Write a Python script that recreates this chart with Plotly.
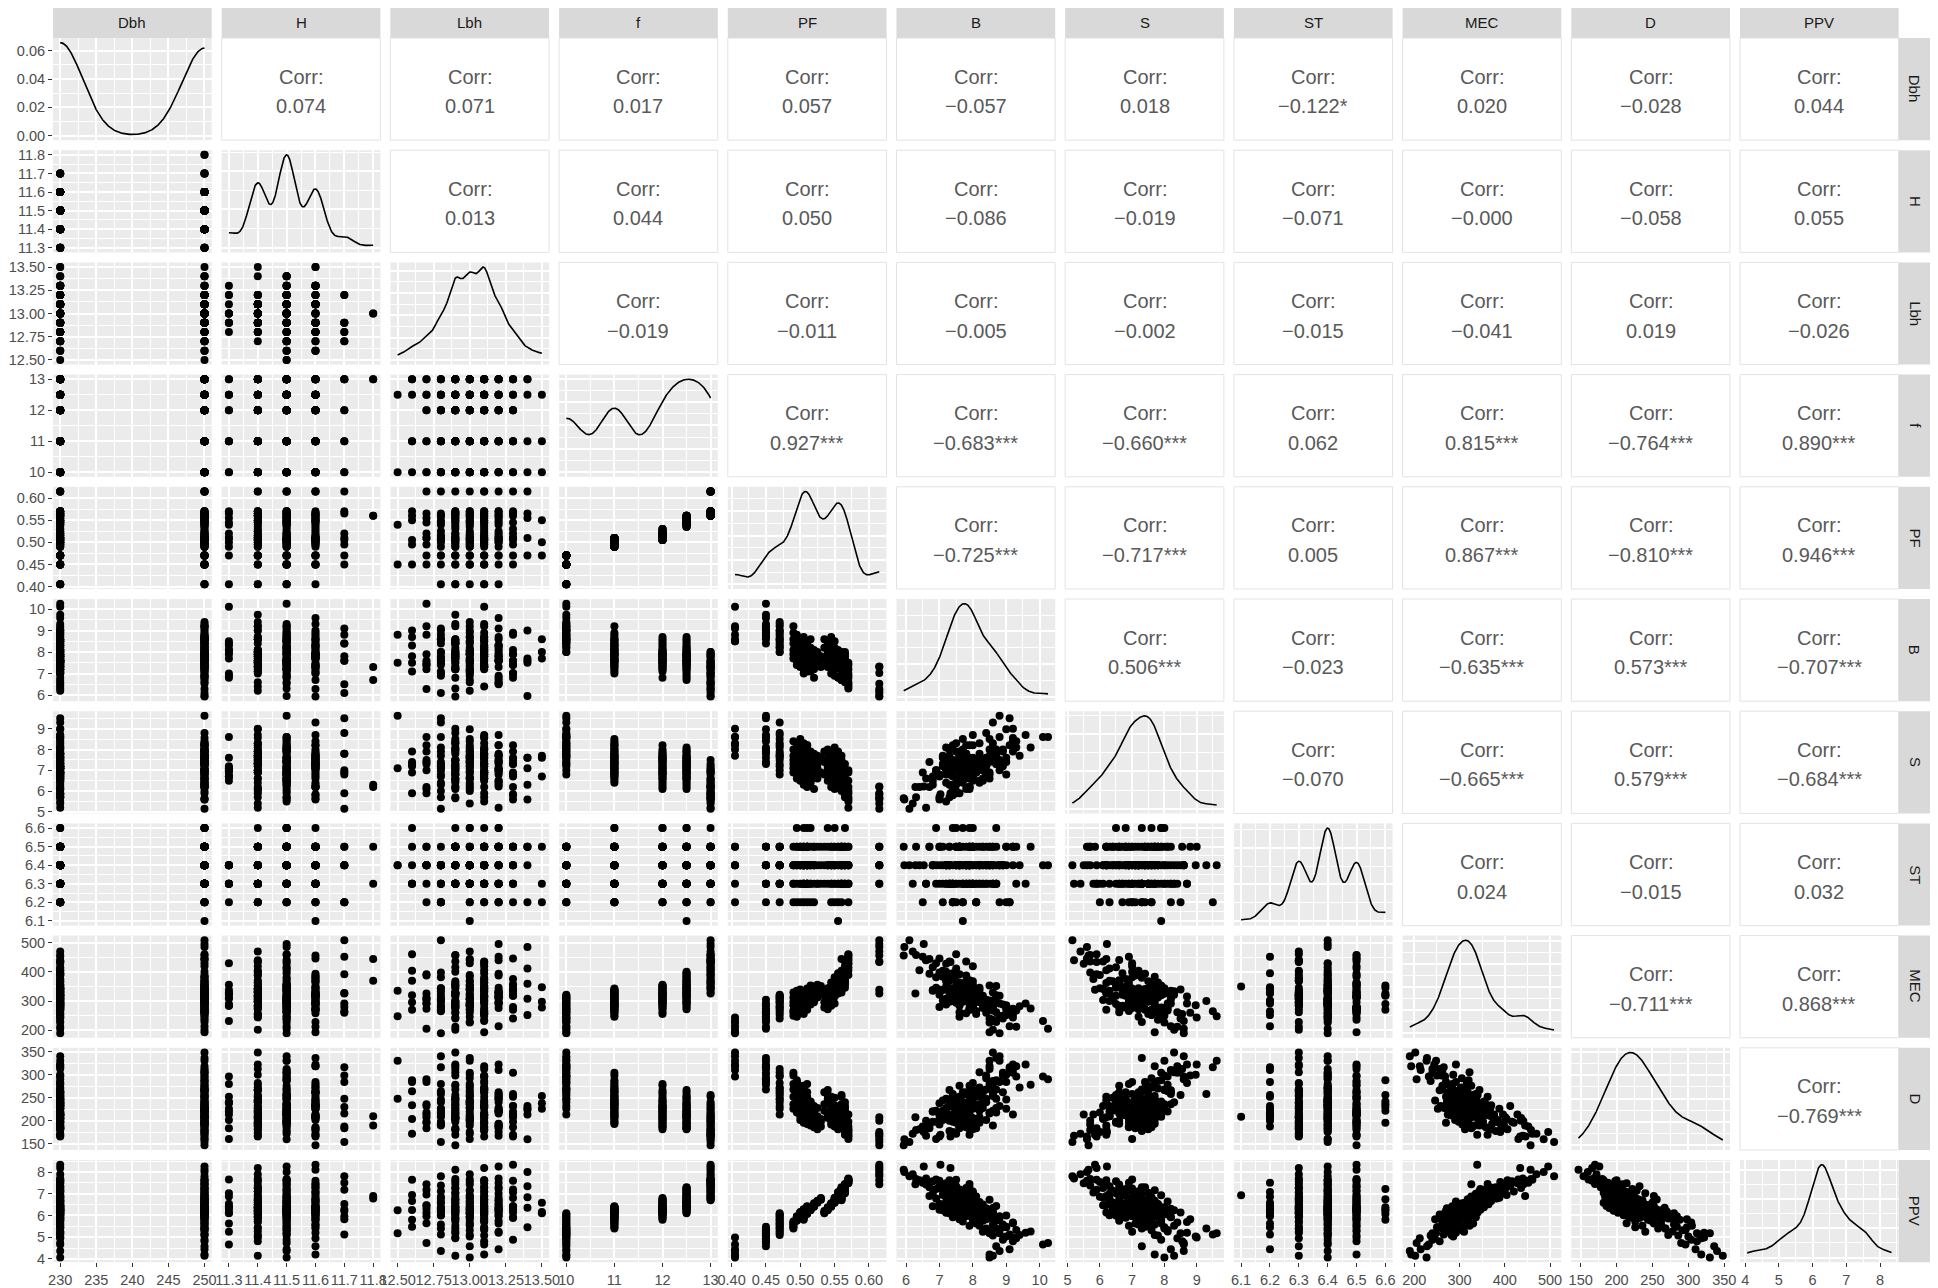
import numpy as np
import plotly.graph_objects as go

# ---------------------------------------------------------------- data
# rows grouped by f (10, 11, 12, 12.5, 13); 200 observations

Dbh = [
    230, 250, 250, 230, 250, 230, 230, 250, 230, 250,
    250, 230, 230, 250, 230, 250, 230, 230, 250, 250,
    230, 250, 230, 230, 250, 230, 250, 250, 230, 250,
    230, 230, 250, 230, 250, 230, 230, 250,
    250, 230, 230, 250, 230, 250, 250, 230, 250, 230,
    230, 250, 230, 250, 250, 230, 230, 250, 230, 250,
    250, 230, 250, 230, 230, 250, 230, 250, 250, 230,
    230, 250, 230, 250, 230, 230, 250, 250, 230, 250,
    230, 250, 230, 250, 230,
    230, 250, 230, 250, 250, 230, 250, 230, 230, 250,
    250, 230, 230, 250, 230, 250, 230, 250, 230, 230,
    250, 250, 230, 250, 230, 230, 250, 230, 250, 250,
    230, 230, 250, 230, 250, 230,
    250, 230, 250, 230, 230, 250, 230, 250, 250, 230,
    230, 250, 250, 230, 250, 230, 230, 250, 230, 250,
    250, 230, 230, 250, 230, 250, 250, 230, 250, 230,
    230, 250, 230, 250, 250, 230, 230, 250, 230, 250,
    250, 230,
    230, 250, 250, 230, 230, 250, 230, 250, 250, 230,
    250, 230, 230, 250, 230, 250, 230, 230, 250, 250,
    230, 230, 250, 230, 250, 230, 250, 250, 230, 230,
    250, 230, 250, 230, 250, 250, 230, 250, 230,
]

H = [
    11.5, 11.4, 11.6, 11.5, 11.5, 11.3, 11.4, 11.6, 11.5, 11.4,
    11.5, 11.6, 11.4, 11.5, 11.7, 11.5, 11.6, 11.4, 11.5, 11.5,
    11.6, 11.4, 11.5, 11.3, 11.5, 11.6, 11.4, 11.5, 11.6, 11.5,
    11.4, 11.5, 11.7, 11.6, 11.4, 11.5, 11.6, 11.4,
    11.4, 11.5, 11.5, 11.6, 11.3, 11.5, 11.4, 11.6, 11.5, 11.4,
    11.6, 11.5, 11.5, 11.4, 11.7, 11.6, 11.5, 11.4, 11.5, 11.6,
    11.5, 11.4, 11.3, 11.5, 11.6, 11.5, 11.4, 11.6, 11.5, 11.5,
    11.4, 11.6, 11.5, 11.7, 11.5, 11.4, 11.6, 11.5, 11.3, 11.4,
    11.5, 11.6, 11.4, 11.4, 11.6,
    11.6, 11.5, 11.4, 11.5, 11.6, 11.4, 11.5, 11.3, 11.5, 11.6,
    11.4, 11.5, 11.7, 11.6, 11.4, 11.5, 11.5, 11.6, 11.4, 11.5,
    11.6, 11.4, 11.5, 11.3, 11.6, 11.5, 11.4, 11.7, 11.5, 11.4,
    11.6, 11.5, 11.4, 11.6, 11.4, 11.5,
    11.5, 11.6, 11.4, 11.5, 11.5, 11.3, 11.6, 11.4, 11.5, 11.6,
    11.5, 11.4, 11.5, 11.6, 11.5, 11.4, 11.3, 11.5, 11.6, 11.4,
    11.5, 11.5, 11.6, 11.4, 11.5, 11.6, 11.5, 11.4, 11.5, 11.3,
    11.5, 11.6, 11.4, 11.5, 11.6, 11.5, 11.4, 11.6, 11.5, 11.4,
    11.4, 11.6,
    11.5, 11.4, 11.8, 11.6, 11.5, 11.4, 11.5, 11.8, 11.3, 11.6,
    11.4, 11.5, 11.7, 11.5, 11.4, 11.6, 11.5, 11.4, 11.5, 11.6,
    11.5, 11.7, 11.4, 11.5, 11.6, 11.4, 11.5, 11.3, 11.5, 11.4,
    11.6, 11.5, 11.7, 11.4, 11.5, 11.6, 11.4, 11.5, 11.6,
]

Lbh = [
    13.0, 12.9, 13.1, 12.8, 13.2, 13.1, 12.9, 13.0, 12.7, 13.1,
    13.3, 12.9, 13.0, 13.1, 12.8, 12.5, 13.2, 12.9, 13.0, 13.1,
    12.6, 13.0, 12.9, 13.2, 13.1, 12.8, 13.4, 12.9, 13.0, 12.7,
    13.1, 13.2, 12.9, 13.3, 13.0, 12.8, 13.1, 13.5,
    12.9, 13.1, 13.0, 12.8, 13.2, 13.0, 12.9, 13.1, 12.6, 13.0,
    13.1, 12.9, 13.3, 13.0, 12.7, 13.1, 13.2, 12.9, 12.8, 13.0,
    13.1, 13.2, 12.9, 13.0, 13.5, 13.1, 12.8, 12.9, 13.2, 13.0,
    13.1, 12.6, 13.3, 12.9, 13.0, 13.1, 12.7, 13.2, 12.8, 13.0,
    13.4, 12.9, 13.1, 13.2, 13.3,
    13.1, 12.9, 13.0, 13.2, 12.8, 13.1, 12.9, 13.0, 12.7, 13.3,
    13.1, 13.0, 12.9, 13.2, 12.8, 13.1, 13.0, 12.9, 13.1, 13.2,
    12.8, 13.0, 12.9, 13.3, 13.1, 12.7, 13.0, 13.2, 12.9, 13.1,
    12.8, 13.0, 13.2, 12.9, 13.1, 13.3,
    13.0, 13.1, 12.9, 12.5, 13.2, 13.0, 12.8, 13.1, 12.9, 13.3,
    13.0, 13.1, 12.7, 12.9, 13.2, 13.1, 13.0, 12.8, 13.5, 12.9,
    13.1, 13.0, 12.6, 13.2, 12.9, 13.1, 12.8, 13.0, 13.4, 12.9,
    13.1, 13.0, 12.7, 13.2, 12.9, 13.1, 12.8, 13.0, 13.3, 12.9,
    13.1, 13.2,
    13.1, 12.9, 13.0, 13.2, 12.8, 13.1, 12.6, 13.0, 12.9, 13.3,
    13.1, 13.0, 12.7, 13.2, 12.9, 13.1, 13.4, 12.8, 13.0, 12.9,
    13.1, 13.2, 13.0, 12.9, 13.3, 13.1, 12.6, 13.0, 12.9, 13.2,
    12.7, 13.1, 12.8, 13.0, 13.4, 12.9, 13.1, 13.2, 13.3,
]

f = [
    10, 10, 10, 10, 10, 10, 10, 10, 10, 10,
    10, 10, 10, 10, 10, 10, 10, 10, 10, 10,
    10, 10, 10, 10, 10, 10, 10, 10, 10, 10,
    10, 10, 10, 10, 10, 10, 10, 10,
    11, 11, 11, 11, 11, 11, 11, 11, 11, 11,
    11, 11, 11, 11, 11, 11, 11, 11, 11, 11,
    11, 11, 11, 11, 11, 11, 11, 11, 11, 11,
    11, 11, 11, 11, 11, 11, 11, 11, 11, 11,
    11, 11, 11, 11, 11,
    12, 12, 12, 12, 12, 12, 12, 12, 12, 12,
    12, 12, 12, 12, 12, 12, 12, 12, 12, 12,
    12, 12, 12, 12, 12, 12, 12, 12, 12, 12,
    12, 12, 12, 12, 12, 12,
    12.5, 12.5, 12.5, 12.5, 12.5, 12.5, 12.5, 12.5, 12.5, 12.5,
    12.5, 12.5, 12.5, 12.5, 12.5, 12.5, 12.5, 12.5, 12.5, 12.5,
    12.5, 12.5, 12.5, 12.5, 12.5, 12.5, 12.5, 12.5, 12.5, 12.5,
    12.5, 12.5, 12.5, 12.5, 12.5, 12.5, 12.5, 12.5, 12.5, 12.5,
    12.5, 12.5,
    13, 13, 13, 13, 13, 13, 13, 13, 13, 13,
    13, 13, 13, 13, 13, 13, 13, 13, 13, 13,
    13, 13, 13, 13, 13, 13, 13, 13, 13, 13,
    13, 13, 13, 13, 13, 13, 13, 13, 13,
]

PF = [
    0.405, 0.405, 0.405, 0.405, 0.405, 0.405, 0.405,
    0.45, 0.45, 0.45, 0.45, 0.45, 0.45, 0.45, 0.45, 0.45, 0.45, 0.45, 0.45, 0.45, 0.45,
    0.47, 0.47, 0.47, 0.47, 0.47, 0.47, 0.47, 0.47, 0.47, 0.47, 0.47, 0.47, 0.47, 0.47,
    0.47, 0.47, 0.47,
    0.49, 0.49, 0.49, 0.49, 0.49, 0.49, 0.49,
    0.495, 0.495, 0.495, 0.495, 0.495, 0.495, 0.495, 0.495,
    0.50, 0.50, 0.50, 0.50, 0.50, 0.50, 0.50, 0.50, 0.50, 0.50,
    0.505, 0.505, 0.505, 0.505, 0.505, 0.505, 0.505, 0.505, 0.505, 0.505,
    0.51, 0.51, 0.51, 0.51, 0.51, 0.51, 0.51, 0.51, 0.51, 0.51,
    0.505, 0.505, 0.505, 0.505, 0.505, 0.505,
    0.51, 0.51, 0.51, 0.51, 0.51, 0.51, 0.51, 0.51,
    0.515, 0.515, 0.515, 0.515, 0.515, 0.515, 0.515, 0.515,
    0.52, 0.52, 0.52, 0.52, 0.52, 0.52, 0.52,
    0.525, 0.525, 0.525, 0.525,
    0.53, 0.53, 0.53,
    0.535, 0.535, 0.535,
    0.54, 0.54, 0.54, 0.54, 0.54, 0.54,
    0.545, 0.545, 0.545, 0.545, 0.545, 0.545, 0.545, 0.545, 0.545,
    0.55, 0.55, 0.55, 0.55, 0.55, 0.55, 0.55, 0.55, 0.55, 0.55,
    0.555, 0.555, 0.555, 0.555, 0.555, 0.555, 0.555, 0.555,
    0.56, 0.56, 0.56, 0.56, 0.56, 0.56,
    0.56, 0.56, 0.56, 0.56, 0.56, 0.56, 0.56, 0.56,
    0.565, 0.565, 0.565, 0.565, 0.565, 0.565, 0.565, 0.565, 0.565, 0.565, 0.565, 0.565,
    0.57, 0.57, 0.57, 0.57, 0.57, 0.57, 0.57, 0.57, 0.57, 0.57,
    0.615, 0.615, 0.615, 0.615, 0.615, 0.615, 0.615, 0.615, 0.615,
]

B = [
    8.5, 8.6, 8.5, 8.8, 9.1, 10.1, 9.2,
    8.7, 10.25, 9.2, 8.9, 9.3, 9.0, 8.6, 9.1, 8.8, 9.58, 9.73, 8.4, 8.7, 9.0,
    9.4, 8.5, 8.3, 9.3, 8.6, 9.0, 8.2, 8.9, 9.2, 8.0, 8.7, 8.4, 8.8, 8.0, 9.0, 8.2, 8.6,
    8.4, 8.9, 7.9, 8.6, 8.1, 9.2, 7.7, 8.3, 8.7, 7.6,
    8.2, 8.5, 7.4, 8.0, 8.8, 7.8, 8.3, 7.5, 8.6, 7.9,
    8.1, 7.3, 8.4, 7.7, 8.0, 8.5, 7.6, 7.2, 8.2, 7.9,
    7.5, 8.3, 7.0, 7.8, 8.1, 7.4, 7.9, 7.6, 8.0, 7.1,
    7.7, 7.3, 8.1, 7.6, 7.9,
    8.3, 7.6, 8.7, 7.9, 7.4, 8.1, 7.7, 8.5, 7.2, 7.9,
    8.0, 7.5, 8.4, 7.8, 7.1, 8.2, 7.6, 7.9, 7.3, 8.6,
    7.7, 7.5, 8.0, 6.8, 7.8, 7.4, 8.1, 7.6, 7.2, 7.9,
    7.5, 8.0, 7.7, 7.3, 7.8, 7.6,
    8.2, 7.7, 8.6, 7.5, 8.0, 7.9, 8.4, 7.3, 7.8, 8.1,
    7.6, 8.7, 7.4, 7.9, 8.3, 7.6, 7.0, 8.0, 7.7, 7.5,
    8.2, 7.2, 7.8, 7.6, 8.5, 7.4, 6.9, 7.9, 7.6, 8.1,
    7.3, 7.7, 7.5, 6.8, 8.0, 7.4, 7.8, 7.1, 7.6, 7.2,
    7.9, 6.7,
    7.6, 8.0, 7.3, 7.8, 7.5, 7.9, 7.1, 6.7, 7.7, 7.4,
    8.0, 7.2, 7.6, 6.9, 7.8, 7.3, 7.5, 7.0, 6.6, 7.9,
    7.2, 6.5, 7.4, 6.8, 7.0, 6.4, 7.5, 6.9, 6.3, 6.6,
    6.28, 7.3, 6.1, 6.2, 5.95, 5.93, 7.33, 6.53, 7.03,
]

S = [
    8.0, 8.3, 7.7, 8.6, 8.2, 8.6, 9.0,
    7.3, 8.6, 8.55, 7.9, 8.4, 8.97, 7.8, 9.5, 9.62, 8.7, 8.1, 7.6, 8.0, 7.4,
    7.7, 8.5, 7.0, 8.1, 9.3, 7.6, 8.3, 7.2, 7.9, 8.7, 7.3, 8.8, 7.5, 8.2, 6.8, 7.8, 7.7,
    7.3, 8.0, 6.9, 7.7, 7.1, 8.4, 7.5, 6.6, 7.9, 7.2,
    7.6, 6.8, 8.2, 7.4, 7.0, 7.8, 6.5, 7.3, 8.1, 7.5,
    6.9, 7.7, 7.2, 8.5, 6.7, 7.4, 7.9, 7.1, 6.4, 7.6,
    8.3, 7.3, 6.8, 7.8, 7.5, 7.0, 8.2, 7.4, 6.7, 7.6,
    7.1, 8.0, 6.9, 7.7, 7.3,
    7.2, 6.6, 7.8, 7.0, 6.3, 7.5, 8.0, 6.9, 7.4, 6.2,
    7.6, 7.1, 6.8, 8.2, 7.3, 6.5, 7.7, 7.0, 6.9, 7.5,
    6.4, 7.9, 7.2, 6.7, 7.6, 6.1, 7.4, 7.8, 6.8, 7.3,
    7.1, 6.6, 7.7, 7.5, 6.9, 7.6,
    7.4, 6.8, 7.9, 7.1, 6.5, 7.6, 7.2, 8.0, 6.9, 7.3,
    6.6, 7.7, 7.5, 6.2, 7.0, 7.8, 6.7, 7.4, 7.6, 6.4,
    7.2, 8.1, 6.9, 7.5, 6.6, 7.3, 7.0, 6.1, 7.6, 7.1,
    6.8, 7.9, 7.3, 6.3, 7.5, 6.7, 7.2, 7.7, 6.9, 7.0,
    6.6, 7.4,
    6.9, 7.5, 6.3, 7.1, 6.0, 6.6, 7.2, 6.2, 6.5, 5.8,
    7.0, 6.4, 5.9, 6.8, 6.1, 7.3, 6.3, 5.7, 6.6, 6.2,
    5.5, 6.9, 6.0, 6.5, 5.6, 6.2, 5.9, 7.0, 5.7, 5.2,
    6.2, 5.7, 5.15, 5.4, 5.6, 5.65, 5.9, 6.22, 5.85,
]

ST = [
    6.4, 6.3, 6.5, 6.4, 6.2, 6.4, 6.5, 6.3, 6.4, 6.5,
    6.4, 6.3, 6.4, 6.5, 6.2, 6.4, 6.3, 6.5, 6.4, 6.3,
    6.5, 6.4, 6.4, 6.3, 6.5, 6.4, 6.2, 6.3, 6.4, 6.5,
    6.3, 6.4, 6.5, 6.4, 6.3, 6.5, 6.4, 6.3,
    6.3, 6.4, 6.5, 6.4, 6.2, 6.4, 6.3, 6.5, 6.6, 6.4,
    6.4, 6.5, 6.3, 6.4, 6.2, 6.4, 6.5, 6.3, 6.4, 6.4,
    6.5, 6.3, 6.4, 6.2, 6.5, 6.4, 6.3, 6.4, 6.5, 6.6,
    6.4, 6.3, 6.5, 6.4, 6.3, 6.2, 6.4, 6.5, 6.3, 6.4,
    6.5, 6.3, 6.4, 6.5, 6.3,
    6.4, 6.5, 6.3, 6.4, 6.2, 6.4, 6.6, 6.3, 6.4, 6.5,
    6.3, 6.4, 6.4, 6.5, 6.2, 6.3, 6.4, 6.5, 6.4, 6.3,
    6.4, 6.6, 6.5, 6.4, 6.3, 6.4, 6.2, 6.5, 6.4, 6.3,
    6.4, 6.5, 6.3, 6.4, 6.3, 6.5,
    6.4, 6.3, 6.5, 6.4, 6.6, 6.4, 6.3, 6.5, 6.4, 6.2,
    6.4, 6.5, 6.3, 6.4, 6.4, 6.5, 6.3, 6.4, 6.2, 6.5,
    6.4, 6.3, 6.4, 6.5, 6.4, 6.6, 6.3, 6.4, 6.5, 6.3,
    6.4, 6.1, 6.5, 6.4, 6.3, 6.2, 6.4, 6.5, 6.4, 6.3,
    6.3, 6.5,
    6.4, 6.5, 6.3, 6.4, 6.2, 6.4, 6.3, 6.5, 6.4, 6.3,
    6.5, 6.4, 6.4, 6.6, 6.3, 6.4, 6.5, 6.4, 6.3, 6.5,
    6.4, 6.2, 6.3, 6.4, 6.5, 6.4, 6.3, 6.4, 6.5, 6.3,
    6.4, 6.5, 6.4, 6.3, 6.4, 6.5, 6.3, 6.4, 6.5,
]

MEC = [
    227, 202, 193, 190, 214, 232, 244,
    228, 205, 256, 240, 212, 286, 236, 265, 248, 292, 275, 305, 262, 270,
    282, 240, 310, 268, 300, 252, 322, 288, 274, 316, 296, 260, 318, 306, 278, 312, 298,
    286, 250, 312, 268, 330, 262, 298, 276, 320, 246,
    304, 282, 336, 272, 292, 258, 318, 300, 284, 326,
    266, 310, 290, 340, 278, 302, 322, 288, 314, 270,
    334, 296, 280, 328, 306, 343, 292, 316, 284, 338,
    308, 326, 298, 332, 318,
    290, 262, 318, 276, 300, 256, 326, 284, 308, 270,
    336, 294, 280, 314, 302, 346, 288, 322, 298, 330,
    310, 354, 296, 338, 318, 304, 342, 326, 350, 312,
    334, 356, 320, 344, 328, 352,
    296, 318, 278, 336, 290, 310, 272, 344, 300, 326,
    284, 352, 312, 330, 298, 364, 322, 306, 348, 316,
    338, 292, 370, 330, 354, 318, 382, 342, 360, 326,
    376, 350, 388, 336, 368, 396, 344, 384, 358, 401,
    372, 394,
    350, 330, 370, 388, 344, 362, 404, 445, 356, 376,
    420, 368, 392, 346, 436, 380, 412, 398, 441, 362,
    428, 452, 390, 416, 446, 406, 461, 430, 458, 440,
    326, 436, 509, 470, 486, 457, 434, 496, 339,
]

D = [
    330, 348, 318, 340, 310, 296, 322,
    336, 290, 312, 304, 318, 300, 286, 316, 330, 322, 278, 292, 268, 284,
    272, 312, 240, 296, 258, 226, 305, 262, 214, 282, 248, 298, 232, 266, 246, 270, 254,
    268, 298, 236, 280, 252, 304, 226, 262, 288, 244,
    272, 218, 258, 240, 284, 232, 250, 210, 264, 276,
    228, 246, 202, 256, 238, 270, 216, 248, 222, 196,
    240, 264, 212, 230, 254, 206, 236, 193, 226, 244,
    214, 234, 198, 220, 208,
    244, 276, 228, 258, 210, 266, 236, 280, 218, 252,
    230, 204, 248, 262, 222, 196, 240, 214, 234, 190,
    226, 242, 206, 220, 186, 232, 200, 216, 224, 182,
    210, 228, 194, 204, 188, 198,
    236, 262, 222, 248, 256, 214, 240, 267, 206, 232,
    252, 218, 198, 244, 228, 212, 238, 192, 226, 250,
    208, 220, 234, 188, 216, 230, 198, 204, 224, 184,
    212, 209, 196, 220, 182, 214, 190, 202, 186, 208,
    194, 184,
    236, 256, 210, 226, 218, 252, 204, 190, 240, 214,
    196, 228, 184, 222, 206, 178, 232, 192, 200, 170,
    214, 188, 176, 198, 166, 182, 172, 161, 180, 168,
    208, 200, 154, 172, 160, 147, 166, 176, 170,
]

PPV = [
    4.06, 4.14, 4.20, 4.36, 4.44, 4.66, 4.98,
    4.58, 4.73, 4.81, 4.88, 4.95, 5.03, 5.08, 5.12, 5.18, 5.20, 5.26, 5.32, 5.40, 5.48,
    5.10, 5.18, 5.25, 5.33, 5.40, 5.46, 5.52, 5.58, 5.64, 5.70, 5.76, 5.82, 5.88, 5.94, 6.00, 6.06, 6.10,
    5.40, 5.46, 5.52, 5.58, 5.63, 5.68, 5.72, 5.76, 5.80, 5.83,
    5.86, 5.89, 5.92, 5.94, 5.96, 5.98, 6.00, 6.02, 6.04, 6.06,
    6.08, 6.10, 6.12, 6.14, 6.16, 6.18, 6.19, 6.20, 6.21, 6.22,
    6.24, 6.25, 6.26, 6.27, 6.28, 6.30, 6.31, 6.32, 6.34, 6.35,
    6.36, 6.38, 6.39, 6.40, 6.42,
    5.80, 5.86, 5.92, 5.97, 6.01, 6.04, 6.07, 6.10, 6.12, 6.14,
    6.16, 6.18, 6.20, 6.22, 6.24, 6.26, 6.28, 6.30, 6.32, 6.34,
    6.36, 6.38, 6.40, 6.42, 6.44, 6.47, 6.50, 6.53, 6.56, 6.59,
    6.62, 6.65, 6.68, 6.72, 6.76, 6.80,
    6.10, 6.15, 6.20, 6.24, 6.27, 6.30, 6.33, 6.36, 6.38, 6.40,
    6.42, 6.44, 6.46, 6.48, 6.50, 6.52, 6.54, 6.56, 6.58, 6.60,
    6.62, 6.64, 6.66, 6.69, 6.72, 6.75, 6.78, 6.81, 6.84, 6.87,
    6.90, 6.93, 6.96, 7.00, 7.04, 7.08, 7.12, 7.16, 7.20, 7.24,
    7.27, 7.30,
    6.70, 6.74, 6.78, 6.82, 6.86, 6.90, 6.94, 6.90, 7.02, 7.06,
    7.10, 7.14, 7.18, 7.22, 7.26, 7.30, 7.34, 7.38, 7.42, 7.45,
    7.48, 7.51, 7.54, 7.57, 7.60, 7.62, 7.64, 7.66, 7.68, 7.70,
    7.44, 7.62, 7.80, 7.90, 8.00, 8.11, 8.19, 8.26, 8.34,
]

variables = ["Dbh", "H", "Lbh", "f", "PF", "B", "S", "ST", "MEC", "D", "PPV"]

tick_values = {
    "Dbh": [230, 235, 240, 245, 250],
    "H": [11.3, 11.4, 11.5, 11.6, 11.7, 11.8],
    "Lbh": [12.5, 12.75, 13.0, 13.25, 13.5],
    "f": [10, 11, 12, 13],
    "PF": [0.40, 0.45, 0.50, 0.55, 0.60],
    "B": [6, 7, 8, 9, 10],
    "S": [5, 6, 7, 8, 9],
    "ST": [6.1, 6.2, 6.3, 6.4, 6.5, 6.6],
    "MEC": [200, 300, 400, 500],
    "D": [150, 200, 250, 300, 350],
    "PPV": [4, 5, 6, 7, 8],
}
tick_labels = {
    "Dbh": ["230", "235", "240", "245", "250"],
    "H": ["11.3", "11.4", "11.5", "11.6", "11.7", "11.8"],
    "Lbh": ["12.50", "12.75", "13.00", "13.25", "13.50"],
    "f": ["10", "11", "12", "13"],
    "PF": ["0.40", "0.45", "0.50", "0.55", "0.60"],
    "B": ["6", "7", "8", "9", "10"],
    "S": ["5", "6", "7", "8", "9"],
    "ST": ["6.1", "6.2", "6.3", "6.4", "6.5", "6.6"],
    "MEC": ["200", "300", "400", "500"],
    "D": ["150", "200", "250", "300", "350"],
    "PPV": ["4", "5", "6", "7", "8"],
}
density_ticks = [0.00, 0.02, 0.04, 0.06]
density_labels = ["0.00", "0.02", "0.04", "0.06"]

# upper triangle, row i holds the cells for columns i+1 .. 10
corr_labels = [
    ["0.074", "0.071", "0.017", "0.057", "\u22120.057", "0.018", "\u22120.122*", "0.020", "\u22120.028", "0.044"],
    ["0.013", "0.044", "0.050", "\u22120.086", "\u22120.019", "\u22120.071", "\u22120.000", "\u22120.058", "0.055"],
    ["\u22120.019", "\u22120.011", "\u22120.005", "\u22120.002", "\u22120.015", "\u22120.041", "0.019", "\u22120.026"],
    ["0.927***", "\u22120.683***", "\u22120.660***", "0.062", "0.815***", "\u22120.764***", "0.890***"],
    ["\u22120.725***", "\u22120.717***", "0.005", "0.867***", "\u22120.810***", "0.946***"],
    ["0.506***", "\u22120.023", "\u22120.635***", "0.573***", "\u22120.707***"],
    ["\u22120.070", "\u22120.665***", "0.579***", "\u22120.684***"],
    ["0.024", "\u22120.015", "0.032"],
    ["\u22120.711***", "0.868***"],
    ["\u22120.769***"],
]

data = {"Dbh": Dbh, "H": H, "Lbh": Lbh, "f": f, "PF": PF, "B": B, "S": S,
        "ST": ST, "MEC": MEC, "D": D, "PPV": PPV}
for name, vals in data.items():
    assert len(vals) == 200, (name, len(vals))
data = {k: np.asarray(v, dtype=float) for k, v in data.items()}

# ---------------------------------------------------------------- layout geometry (px)
# the page body has an 8px margin, so the figure is drawn 8px in from the top-left
# corner of the window; all positions below are window positions minus that offset.
OFF = 8.0
W, HT = 1938 - 8, 1288 - 8
LEFT, PW, GAP = 53.0 - OFF, 158.7, 10.0
TOP, PH = 38.0 - OFF, 102.2
STRIP_TOP, STRIP_RIGHT = 6.0 - OFF, 1932.0 - OFF
FONT = "Liberation Sans, Arial, Helvetica, sans-serif"
N = len(variables)


def col_px(j):
    x0 = LEFT + j * (PW + GAP)
    return x0, x0 + PW


def row_px(i):
    y0 = TOP + i * (PH + GAP)
    return y0, y0 + PH


def padded(v):
    lo, hi = float(np.min(v)), float(np.max(v))
    pad = (hi - lo) * 0.05
    return [lo - pad, hi + pad]


def minor_between(ticks, rng):
    step = ticks[1] - ticks[0]
    cands = [ticks[0] - step / 2] + [(a + b) / 2 for a, b in zip(ticks[:-1], ticks[1:])] + [ticks[-1] + step / 2]
    return [c for c in cands if rng[0] <= c <= rng[1]]


def nice_ticks(lo, hi, target=4):
    span = hi - lo
    mag = 10 ** np.floor(np.log10(span / target))
    for m in (1, 2, 2.5, 5, 10):
        step = m * mag
        if span / step <= target + 1:
            break
    start = np.ceil(lo / step) * step
    return [float(t) for t in np.arange(start, hi + step * 1e-9, step)]


def kde(v):
    '''Gaussian density with the nrd0 bandwidth, over the data range.'''
    n = len(v)
    iqr = np.subtract(*np.percentile(v, [75, 25]))
    bw = 0.9 * min(np.std(v, ddof=1), iqr / 1.34) * n ** -0.2
    xs = np.linspace(v.min(), v.max(), 512)
    ys = np.exp(-0.5 * ((xs[:, None] - v[None, :]) / bw) ** 2).sum(axis=1) / (n * bw * np.sqrt(2 * np.pi))
    return xs, ys


def make_axis(domain, rng, ticks, labels, show, anchor):
    return dict(
        domain=domain, range=rng, anchor=anchor,
        tickmode="array", tickvals=ticks, ticktext=labels, tickangle=0,
        showticklabels=show, ticks="outside" if show else "",
        ticklen=4, tickwidth=1.1, tickcolor="#333333",
        tickfont=dict(size=14.5, color="#4D4D4D", family=FONT),
        showgrid=True, gridcolor="white", gridwidth=1.8,
        minor=dict(tickmode="array", tickvals=minor_between(ticks, rng),
                   showgrid=True, gridcolor="white", gridwidth=0.9, ticks=""),
        zeroline=False, showline=False, fixedrange=True, automargin=False,
    )


ranges = {v: padded(data[v]) for v in variables}

traces = []
layout = dict(
    width=W, height=HT, margin=dict(l=0, r=0, t=0, b=0),
    paper_bgcolor="white", plot_bgcolor="#EBEBEB", showlegend=False,
    font=dict(family=FONT, color="#1A1A1A"),
    shapes=[], annotations=[],
)

k = 0
for i, yv in enumerate(variables):
    y0, y1 = row_px(i)
    ydom = [1 - y1 / HT, 1 - y0 / HT]
    for j, xv in enumerate(variables):
        x0, x1 = col_px(j)
        xdom = [x0 / W, x1 / W]

        if j > i:
            # correlation cell
            layout["shapes"].append(dict(
                type="rect", xref="paper", yref="paper",
                x0=xdom[0], x1=xdom[1], y0=ydom[0], y1=ydom[1],
                fillcolor="white", line=dict(color="#E3E3E3", width=1)))
            cx, cy = (xdom[0] + xdom[1]) / 2, (ydom[0] + ydom[1]) / 2
            for txt, shift in (("Corr:", 12.5), (corr_labels[i][j - i - 1], -17)):
                layout["annotations"].append(dict(
                    text=txt, x=cx, y=cy, xref="paper", yref="paper", yshift=shift,
                    showarrow=False, xanchor="center", yanchor="middle",
                    font=dict(size=20, color="#595959", family=FONT)))
            continue

        k += 1
        sfx = "" if k == 1 else str(k)
        xr = ranges[xv]
        xaxis = make_axis(xdom, xr, tick_values[xv], tick_labels[xv], i == N - 1, "y" + sfx)

        if i == j:
            xs, ys = kde(data[xv])
            yr = [-0.05 * ys.max(), 1.05 * ys.max()]
            if i == 0:
                yt, yl = density_ticks, density_labels
            else:
                yt = nice_ticks(yr[0], yr[1])
                yl = ["" for _ in yt]
            yaxis = make_axis(ydom, yr, yt, yl, j == 0, "x" + sfx)
            traces.append(go.Scatter(
                x=xs, y=ys, mode="lines", line=dict(color="black", width=1.6),
                xaxis="x" + sfx, yaxis="y" + sfx, hoverinfo="skip"))
        else:
            yaxis = make_axis(ydom, ranges[yv], tick_values[yv], tick_labels[yv], j == 0, "x" + sfx)
            traces.append(go.Scatter(
                x=data[xv], y=data[yv], mode="markers",
                marker=dict(size=8, color="black", line=dict(width=0)),
                xaxis="x" + sfx, yaxis="y" + sfx, hoverinfo="skip"))

        layout["xaxis" + sfx] = xaxis
        layout["yaxis" + sfx] = yaxis

# strips
for j, name in enumerate(variables):
    x0, x1 = col_px(j)
    layout["shapes"].append(dict(
        type="rect", xref="paper", yref="paper", x0=x0 / W, x1=x1 / W,
        y0=1 - TOP / HT, y1=1 - max(STRIP_TOP, 0) / HT, fillcolor="#D9D9D9", line=dict(width=0)))
    layout["annotations"].append(dict(
        text=name, x=(x0 + x1) / 2 / W, y=1 - (TOP + STRIP_TOP) / 2 / HT,
        xref="paper", yref="paper", showarrow=False, xanchor="center", yanchor="middle",
        font=dict(size=15, color="#1A1A1A", family=FONT)))
for i, name in enumerate(variables):
    y0, y1 = row_px(i)
    xs0 = col_px(N - 1)[1]
    layout["shapes"].append(dict(
        type="rect", xref="paper", yref="paper", x0=xs0 / W, x1=STRIP_RIGHT / W,
        y0=1 - y1 / HT, y1=1 - y0 / HT, fillcolor="#D9D9D9", line=dict(width=0)))
    layout["annotations"].append(dict(
        text=name, x=(xs0 + STRIP_RIGHT) / 2 / W, y=1 - (y0 + y1) / 2 / HT,
        xref="paper", yref="paper", showarrow=False, textangle=90,
        xanchor="center", yanchor="middle",
        font=dict(size=15, color="#1A1A1A", family=FONT)))

fig = go.Figure(data=traces, layout=layout)
fig.write_html("out.html")
